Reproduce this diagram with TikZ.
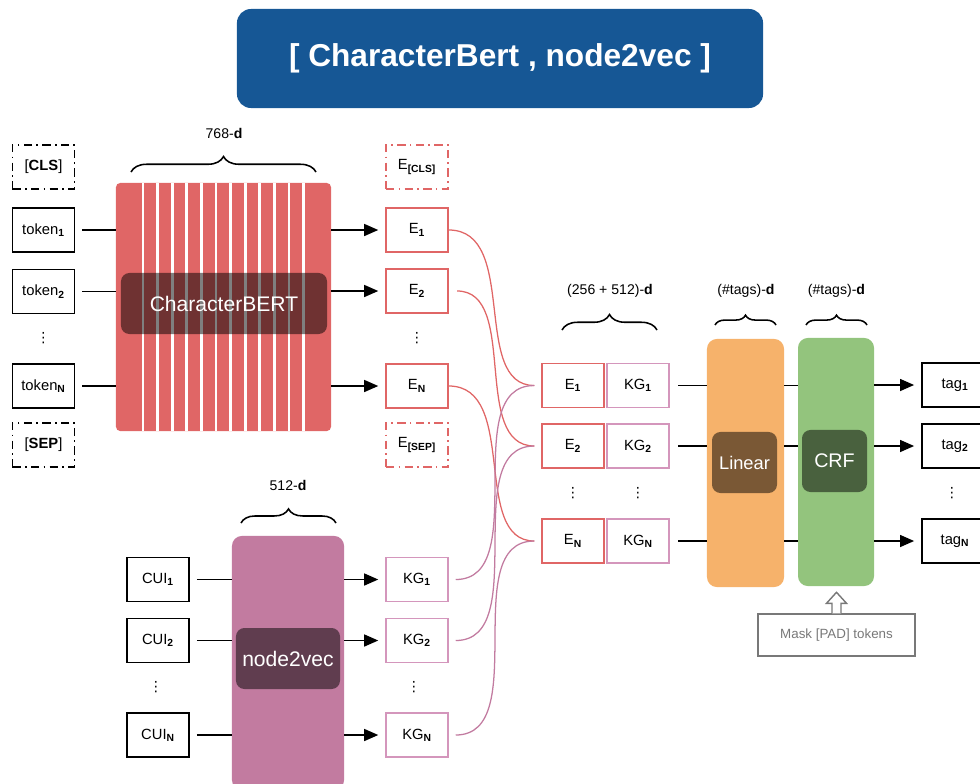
\documentclass[tikz,border=0pt]{standalone}
\usepackage{fontspec}
\setmainfont{Liberation Sans}
\newfontfamily\symfont{DejaVu Sans}
\usetikzlibrary{arrows.meta,decorations.pathreplacing,calc}

\definecolor{titleblue}{RGB}{22,87,149}
\definecolor{bertred}{RGB}{224,102,102}
\definecolor{kgpink}{RGB}{194,123,160}
\definecolor{kgline}{RGB}{212,150,188}
\definecolor{linorange}{RGB}{246,178,107}
\definecolor{crfgreen}{RGB}{147,196,125}
\definecolor{maskgray}{RGB}{120,120,120}

\newcommand{\idx}[1]{\textsubscript{\bfseries #1}}

\tikzset{
  tokbox/.style={draw, line width=1.2pt, minimum width=1.55cm, minimum height=1.1cm, inner sep=0pt, font=\fontsize{10.5}{12}\selectfont},
  specbox/.style={tokbox, dash pattern=on 6pt off 3pt on 1.2pt off 3pt},
  embbox/.style={tokbox, draw=bertred, line width=1pt},
  kgbox/.style={tokbox, draw=kgline, line width=1pt},
  blockbg/.style={rounded corners=7pt, inner sep=0pt},
  blockname/.style={fill=black, fill opacity=0.5, text opacity=1, text=white, rounded corners=6pt, inner sep=0pt},
  dimlabel/.style={font=\fontsize{10}{12}\selectfont},
  dimbrace/.style={decorate, decoration={brace, amplitude=#1}, line width=1.1pt},
  dimbrace/.default=10pt,
  feedline/.style={line width=1.1pt},
  feedarrow/.style={line width=1.1pt, -{Triangle[length=10pt,width=8.5pt]}},
  ecurve/.style={bertred, line width=0.9pt},
  kgcurve/.style={kgpink, line width=0.9pt},
  vdots/.style={inner sep=0pt, font=\symfont\fontsize{10}{12}\selectfont},
}

\begin{document}
\begin{tikzpicture}[x=0.025cm, y=-0.025cm]
    \useasboundingbox (0,0) rectangle (980,783);

    % Title
    \node[fill=titleblue, rounded corners=10pt, minimum width=13.15cm, minimum height=2.475cm, text=white, font=\fontsize{22.5}{26}\selectfont\bfseries] (title) at (500,58.5) {[ CharacterBert , node2vec ]};

    % Input tokens
    \node[specbox] (cls) at (43.5,167) {[\textbf{CLS}]};
    \node[tokbox] (tok1) at (43.5,230) {token\idx{1}};
    \node[tokbox] (tok2) at (43.5,291.5) {token\idx{2}};
    \node[vdots] (tokdots) at (43.5,338) {⋮};
    \node[tokbox] (tokN) at (43.5,386) {token\idx{N}};
    \node[specbox] (sep) at (43.5,445) {[\textbf{SEP}]};

    % CharacterBERT block with its stripes
    \node[blockbg, fill=bertred, rounded corners=3pt, minimum width=5.375cm, minimum height=6.2cm] (bert) at (223.5,307) {};
    \foreach \i in {0,...,11}
        \draw[white, line width=2.1pt] ({143+14.6*\i},183) -- ({143+14.6*\i},431);
    \node[blockname, minimum width=5.15cm, minimum height=1.525cm, font=\fontsize{15}{18}\selectfont] (bertname) at (224,303.5) {CharacterBERT};
    \draw[dimbrace=11pt] (131,172) -- (316,172);
    \node[dimlabel] (bertdim) at (224,133) {768-\textbf{d}};

    % CharacterBERT outputs
    \node[specbox, draw=bertred, line width=1pt] (ecls) at (417,167) {E\idx{[CLS]}};
    \node[embbox] (e1) at (417,230) {E\idx{1}};
    \node[embbox] (e2) at (417,291) {E\idx{2}};
    \node[vdots] (edots) at (417,338) {⋮};
    \node[embbox] (eN) at (417,386) {E\idx{N}};
    \node[specbox, draw=bertred, line width=1pt] (esep) at (417,445) {E\idx{[SEP]}};

    \foreach \t in {tok1,tok2,tokN}
        \draw[feedline, shorten <=5pt] (\t.east) -- (bert.west |- \t);
    \foreach \e in {e1,e2,eN}
        \draw[feedarrow, shorten >=5pt] (bert.east |- \e) -- (\e.west);

    % Concept ids
    \node[tokbox] (cui1) at (158,579.5) {CUI\idx{1}};
    \node[tokbox] (cui2) at (158,640.5) {CUI\idx{2}};
    \node[vdots] (cuidots) at (156,687) {⋮};
    \node[tokbox] (cuiN) at (158,735) {CUI\idx{N}};

    % node2vec block
    \node[blockbg, fill=kgpink, minimum width=2.8cm, minimum height=6.35cm] (n2v) at (288,663) {};
    \node[blockname, minimum width=2.6cm, minimum height=1.525cm, font=\fontsize{15}{18}\selectfont] (n2vname) at (288,658.5) {node2vec};
    \draw[dimbrace=10pt] (241,523) -- (336,523);
    \node[dimlabel] (n2vdim) at (288,485) {512-\textbf{d}};

    % node2vec outputs
    \node[kgbox] (kg1) at (417,579.5) {KG\idx{1}};
    \node[kgbox] (kg2) at (417,640.5) {KG\idx{2}};
    \node[vdots] (kgdots) at (414,687) {⋮};
    \node[kgbox] (kgN) at (417,735) {KG\idx{N}};

    \foreach \c in {cui1,cui2,cuiN}
        \draw[feedline, shorten <=5pt] (\c.east) -- (n2v.west |- \c);
    \foreach \k in {kg1,kg2,kgN}
        \draw[feedarrow, shorten >=5pt] (n2v.east |- \k) -- (\k.west);

    % Concatenated vectors
    \node[embbox] (c1) at (573,385.5) {E\idx{1}};
    \node[embbox] (c2) at (573,446) {E\idx{2}};
    \node[vdots] (cdots) at (573,493) {⋮};
    \node[embbox] (cN) at (573,541) {E\idx{N}};
    \node[kgbox] (k1) at (638,385.5) {KG\idx{1}};
    \node[kgbox] (k2) at (638,446) {KG\idx{2}};
    \node[vdots] (kdots) at (638,493) {⋮};
    \node[kgbox] (kN) at (638,541) {KG\idx{N}};
    \draw[dimbrace=11pt] (562,330) -- (657,330);
    \node[dimlabel] (catdim) at (610,291) {(256 + 512)-\textbf{d}};

    % Crossing curves
    \draw[ecurve, shorten >=5pt] (e1.east) to[out=0,in=180] (c1.west);
    \draw[ecurve, shorten <=6pt, shorten >=5pt] (e2.east) to[out=0,in=180] (c2.west);
    \draw[ecurve, shorten >=5pt] (eN.east) to[out=0,in=180] (cN.west);
    \draw[kgcurve, shorten <=5pt, shorten >=5pt] (kg1.east) to[out=0,in=180] (c1.west);
    \draw[kgcurve, shorten <=5pt, shorten >=5pt] (kg2.east) to[out=0,in=180] (c2.west);
    \draw[kgcurve, shorten <=5pt, shorten >=5pt] (kgN.east) to[out=0,in=180] (cN.west);

    % Linear and CRF
    \node[blockbg, fill=linorange, minimum width=1.925cm, minimum height=6.2cm] (linear) at (745.5,463) {};
    \node[blockname, minimum width=1.625cm, minimum height=1.525cm, font=\fontsize{13}{16}\selectfont] (linname) at (744.5,462.5) {Linear};
    \draw[dimbrace=7pt] (715,325) -- (776,325);
    \node[dimlabel] (lindim) at (746,291) {(\#tags)-\textbf{d}};

    \node[blockbg, fill=crfgreen, minimum width=1.9cm, minimum height=6.2cm] (crf) at (836,462) {};
    \node[blockname, minimum width=1.625cm, minimum height=1.55cm, font=\fontsize{14}{16}\selectfont] (crfname) at (834.5,461) {CRF};
    \draw[dimbrace=7pt] (806,325) -- (867,325);
    \node[dimlabel] (crfdim) at (836.5,291) {(\#tags)-\textbf{d}};

    % Output tags
    \node[tokbox, minimum width=1.65cm] (tag1) at (955,385) {tag\idx{1}};
    \node[tokbox, minimum width=1.65cm] (tag2) at (955,446) {tag\idx{2}};
    \node[vdots] (tagdots) at (952,493) {⋮};
    \node[tokbox, minimum width=1.65cm] (tagN) at (955,541) {tag\idx{N}};

    \foreach \k/\t in {k1/tag1,k2/tag2,kN/tagN} {
        \draw[feedline, shorten <=6pt] (\k.east) -- (linear.west |- \k);
        \draw[feedline] (linear.east |- \k) -- (crf.west |- \k);
        \draw[feedarrow, shorten >=5pt] (crf.east |- \t) -- (\t.west);
    }

    % Mask box
    \node[draw=maskgray, line width=1pt, text=maskgray, minimum width=3.925cm, minimum height=1.05cm, font=\fontsize{9.5}{11}\selectfont] (mask) at (836.5,635) {Mask [PAD] tokens};
    \draw[maskgray, line width=1pt, fill=white] ($(mask.north)+(-4.5,0)$) -- ++(0,-10) -- ++(-5.5,0) -- ++(10,-11) -- ++(10,11) -- ++(-5.5,0) -- ++(0,10);

\end{tikzpicture}
\end{document}
